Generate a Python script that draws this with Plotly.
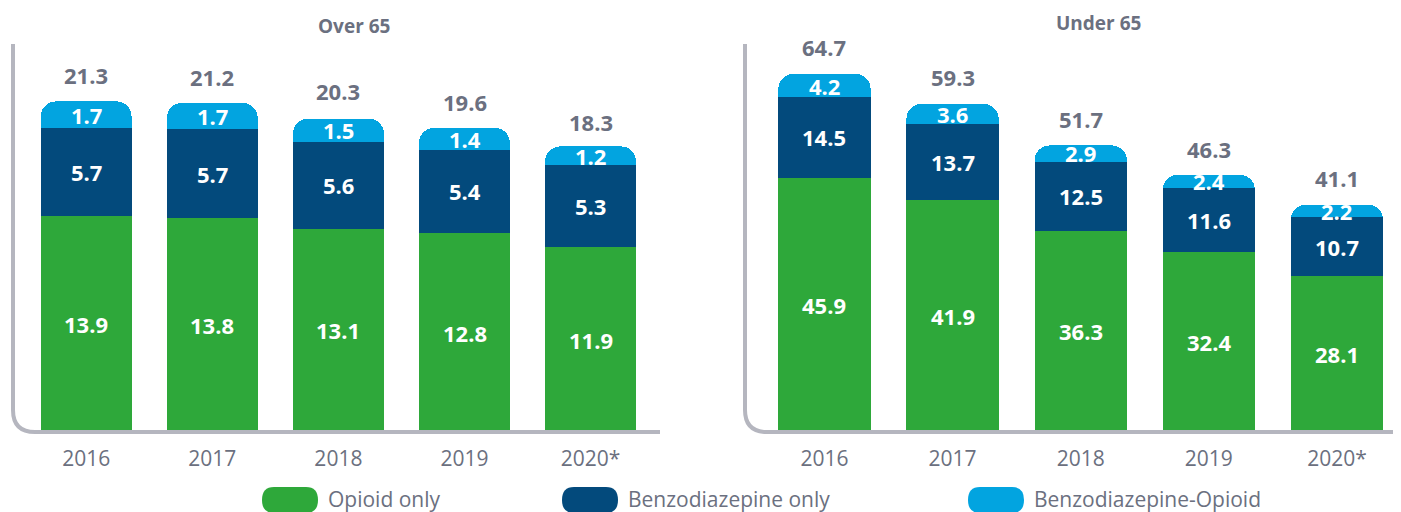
import plotly.graph_objects as go
from plotly.subplots import make_subplots

years = ["2016", "2017", "2018", "2019", "2020*"]

# Over 65
over_opioid = [13.9, 13.8, 13.1, 12.8, 11.9]
over_benzo = [5.7, 5.7, 5.6, 5.4, 5.3]
over_both = [1.7, 1.7, 1.5, 1.4, 1.2]
over_total = [21.3, 21.2, 20.3, 19.6, 18.3]

# Under 65
under_opioid = [45.9, 41.9, 36.3, 32.4, 28.1]
under_benzo = [14.5, 13.7, 12.5, 11.6, 10.7]
under_both = [4.2, 3.6, 2.9, 2.4, 2.2]
under_total = [64.7, 59.3, 51.7, 46.3, 41.1]

series_names = ["Opioid only", "Benzodiazepine only", "Benzodiazepine-Opioid"]
colors = ["#2EA83A", "#034A7C", "#02A4E0"]
gray = "#6B7080"
axis_gray = "#B5B6BF"
FONT = "Open Sans"

# page body has an 8px margin, so the figure fills the rest of the window
OFF = 8
W, H = 1401 - OFF, 512 - OFF


def px(x):
    return (x - OFF) / W


def py(y):
    return (H - (y - OFF)) / H


fig = make_subplots(rows=1, cols=2)

panels = [
    (1, [over_opioid, over_benzo, over_both], over_total, "x", "y"),
    (2, [under_opioid, under_benzo, under_both], under_total, "x2", "y2"),
]

annotations = []
for col, series, totals, xr, yr in panels:
    base = [0] * len(years)
    for name, vals, c in zip(series_names, series, colors):
        fig.add_trace(
            go.Bar(x=years, y=vals, name=name, marker_color=c,
                   marker_line_width=0, showlegend=False, hoverinfo="x+y+name"),
            row=1, col=col
        )
        # segment labels (x given as category index)
        for i, (v, b) in enumerate(zip(vals, base)):
            annotations.append(dict(
                x=i, y=b + v / 2, xref=xr, yref=yr, text="<b>%.1f</b>" % v,
                showarrow=False, font=dict(family=FONT, size=22, color="white")))
        base = [b + v for b, v in zip(base, vals)]
    # totals above bars
    for i, t in enumerate(totals):
        annotations.append(dict(
            x=i, y=t, xref=xr, yref=yr, text="<b>%.1f</b>" % t, showarrow=False,
            yanchor="bottom", yshift=9, font=dict(family=FONT, size=22, color=gray)))

# panel titles
annotations.append(dict(x=px(354), y=py(26), xref="paper", yref="paper", text="<b>Over 65</b>",
                        xanchor="center", yanchor="middle", showarrow=False,
                        font=dict(family=FONT, size=19, color=gray)))
annotations.append(dict(x=px(1098), y=1, xref="paper", yref="paper", text="<b>Under 65</b>",
                        xanchor="center", yanchor="top", showarrow=False,
                        font=dict(family=FONT, size=19, color=gray)))

# custom legend (pills + labels)
shapes = []
legend_x = [262, 562, 968]
for name, c, lx in zip(series_names, colors, legend_x):
    shapes.append(dict(
        type="path", xref="paper", yref="paper", xsizemode="pixel", ysizemode="pixel",
        xanchor=px(lx), yanchor=py(500), fillcolor=c, line=dict(width=0),
        path="M 12,13 L 44,13 Q 56,13 56,0 Q 56,-13 44,-13 L 12,-13 Q 0,-13 0,0 Q 0,13 12,13 Z"))
    annotations.append(dict(x=px(lx + 64), y=py(499), xref="paper", yref="paper", text=name,
                            xanchor="left", yanchor="middle", showarrow=False,
                            font=dict(family=FONT, size=21, color=gray)))

# axis lines with rounded corner
for x0, x1 in [(13, 660), (745, 1401)]:
    r = 22
    path = "M {a},{t} L {a},{b1} Q {a},{b} {a2},{b} L {e},{b}".format(
        a=px(x0), t=py(44), b1=py(432 - r), b=py(432), a2=px(x0 + r), e=px(x1))
    shapes.append(dict(type="path", xref="paper", yref="paper", path=path,
                       line=dict(color=axis_gray, width=4)))

fig.update_layout(
    width=W, height=H,
    margin=dict(l=0, r=0, t=0, b=0),
    barmode="stack",
    barcornerradius=15,
    paper_bgcolor="white",
    plot_bgcolor="white",
    font=dict(family=FONT, color=gray),
    showlegend=False,
    annotations=annotations,
    shapes=shapes,
)

tickstyle = dict(showline=False, showgrid=False, zeroline=False, ticks="outside",
                 ticklen=8, tickcolor="rgba(0,0,0,0)", type="category",
                 tickfont=dict(family=FONT, size=21, color=gray))
fig.update_layout(
    xaxis=dict(domain=[px(13), px(660)], range=[-0.58, 4.55], **tickstyle),
    xaxis2=dict(domain=[px(745), px(1401)], range=[-0.62, 4.5], **tickstyle),
    yaxis=dict(domain=[py(432), py(44)], range=[0, 25], visible=False),
    yaxis2=dict(domain=[py(432), py(44)], range=[0, 70], visible=False),
    bargap=0.28,
)

fig.write_html("out.html")
